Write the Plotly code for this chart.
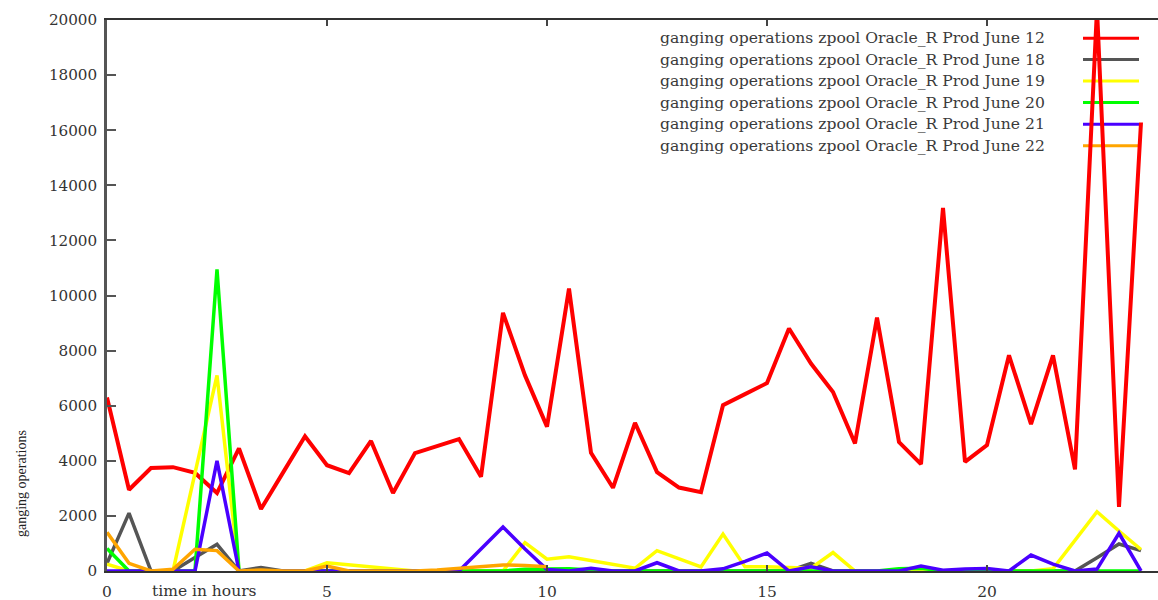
import plotly.graph_objects as go

hours = [i * 0.5 for i in range(48)]

june12 = [6300, 2950, 3740, 3770, 3560, 2830, 4450, 2250, 3570, 4890,
          3840, 3550, 4720, 2830, 4280, 4540, 4790, 3420, 9370, 7100,
          5240, 10250, 4290, 3020, 5380, 3590, 3030, 2860, 6020, 6420,
          6820, 8800, 7530, 6500, 4630, 9200, 4680, 3880, 13180, 3960,
          4570, 7830, 5330, 7830, 3690, 20400, 2330, 16280]
june18 = [280, 2100, 0, 0, 490, 970, 0, 130, 0, 0,
          0, 0, 0, 0, 0, 0, 0, 0, 0, 0,
          0, 0, 0, 0, 0, 0, 0, 0, 0, 0,
          0, 0, 280, 0, 0, 0, 0, 0, 0, 0,
          0, 0, 0, 0, 0, 480, 980, 740]
june19 = [250, 0, 0, 0, 3550, 7100, 0, 0, 0, 0,
          300, 220, 140, 60, 0, 0, 0, 0, 0, 1030,
          430, 520, 380, 240, 100, 740, 450, 150, 1340, 150,
          150, 120, 100, 670, 0, 0, 0, 0, 0, 0,
          0, 0, 0, 80, 1100, 2150, 1450, 780]
june20 = [820, 0, 0, 0, 0, 10950, 0, 0, 0, 0,
          0, 0, 0, 0, 0, 0, 0, 0, 0, 60,
          80, 80, 40, 0, 0, 0, 0, 0, 0, 0,
          0, 0, 0, 0, 0, 0, 80, 100, 0, 0,
          0, 0, 0, 0, 0, 0, 0, 0]
june21 = [0, 0, 0, 0, 0, 4000, 0, 0, 0, 0,
          0, 0, 0, 0, 0, 0, 0, 800, 1600, 800,
          50, 0, 100, 0, 0, 300, 0, 0, 80, 350,
          650, 0, 150, 0, 0, 0, 0, 180, 30, 70,
          90, 0, 580, 250, 0, 70, 1370, 0]
june22 = [1410, 280, 0, 60, 790, 740, 0, 40, 0, 0,
          180, 0, 0, 0, 0, 40, 100, 180, 220, 200,
          150] + [None] * 27

series = [june12, june18, june19, june20, june21, june22]
names = ["ganging operations zpool Oracle_R Prod June 12",
         "ganging operations zpool Oracle_R Prod June 18",
         "ganging operations zpool Oracle_R Prod June 19",
         "ganging operations zpool Oracle_R Prod June 20",
         "ganging operations zpool Oracle_R Prod June 21",
         "ganging operations zpool Oracle_R Prod June 22"]
colors = ["#ff0000", "#555555", "#ffff00", "#00ff00", "#4a00ff", "#ffa500"]
widths = [4, 3.5, 3.5, 3.5, 3.5, 3.5]

x_ticks = [0, 5, 10, 15, 20]
y_ticks = list(range(0, 20001, 2000))

W, H = 1158, 600
L, T, B = 107, 20, 29
plot_w = W - L
plot_h = H - T - B

fig = go.Figure()
for ys, nm, c, w in zip(series, names, colors, widths):
    fig.add_trace(go.Scatter(x=hours, y=ys, mode="lines", name=nm,
                             line=dict(color=c, width=w), showlegend=False))

serif = "DejaVu Serif"

def px_x(p):
    return (p - L) / plot_w

def px_y(p):
    return (H - B - p) / plot_h

# gnuplot-style key: text right-aligned, sample line to its right
row_px = [38.3, 59.6, 81, 102.6, 124.2, 145.8]
for nm, c, ry in zip(names, colors, row_px):
    fig.add_annotation(x=px_x(1047), y=px_y(ry), xref="paper", yref="paper",
                       text=nm, showarrow=False, xanchor="right", yanchor="middle",
                       font=dict(family=serif, size=15.6, color="#3a3a3a"))
    fig.add_shape(type="line", xref="paper", yref="paper",
                  x0=px_x(1083), x1=px_x(1139), y0=px_y(ry), y1=px_y(ry),
                  line=dict(color=c, width=3), layer="below")

fig.add_annotation(x=px_x(21), y=px_y(484), xref="paper", yref="paper",
                   text="ganging operations", showarrow=False, textangle=-90,
                   xanchor="center", yanchor="middle",
                   font=dict(family="Liberation Serif", size=14, color="#222"))
fig.add_annotation(x=px_x(204), y=px_y(591), xref="paper", yref="paper",
                   text="time in hours", showarrow=False,
                   xanchor="center", yanchor="middle",
                   font=dict(family=serif, size=15.5, color="#333"))

fig.update_layout(
    width=W, height=H,
    margin=dict(l=L, r=0, t=T, b=B),
    paper_bgcolor="white", plot_bgcolor="white",
    showlegend=False,
    xaxis=dict(range=[0, plot_w / 44.0], tickvals=x_ticks, ticktext=[str(v) for v in x_ticks],
               showgrid=False, zeroline=False, showline=True, linecolor="#333", linewidth=1.5,
               mirror="ticks", ticks="inside", ticklen=6, tickcolor="#444", tickwidth=1.5,
               tickfont=dict(family=serif, size=15.5, color="#333"), ticklabelstandoff=6),
    yaxis=dict(range=[0, 20000], tickvals=y_ticks, ticktext=[str(v) for v in y_ticks],
               showgrid=False, zeroline=False, showline=True, linecolor="#555", linewidth=2.5,
               ticks="inside", ticklen=9, tickcolor="#555", tickwidth=2,
               tickfont=dict(family=serif, size=15.2, color="#333"), ticklabelstandoff=4),
    yaxis2=dict(range=[0, 20000], overlaying="y", side="right", matches="y",
                tickvals=y_ticks, showticklabels=False, showgrid=False, zeroline=False,
                showline=False, ticks="inside", ticklen=6, tickcolor="#555", tickwidth=1.5),
)

fig.write_html("out.html", config={"displayModeBar": False})
